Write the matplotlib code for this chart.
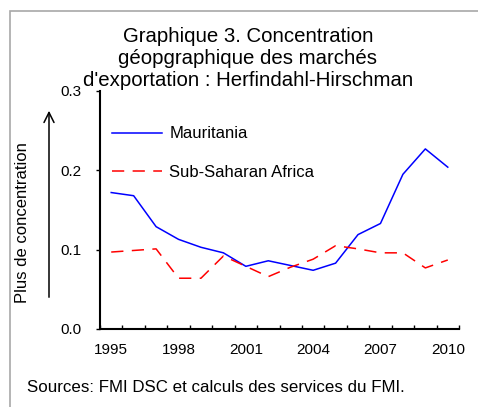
import matplotlib
matplotlib.use("Agg")
import matplotlib.pyplot as plt
from matplotlib.patches import Rectangle
import numpy as np

plt.rcParams['font.family'] = ['Liberation Sans', 'DejaVu Sans']

years = list(range(1995, 2011))
mauritania = [0.172, 0.168, 0.129, 0.113, 0.103, 0.096, 0.079, 0.086,
              0.080, 0.074, 0.083, 0.119, 0.133, 0.195, 0.227, 0.204]
ssa = [0.097, 0.099, 0.101, 0.064, 0.064, 0.092, 0.079, 0.066,
       0.078, 0.088, 0.105, 0.101, 0.096, 0.096, 0.077, 0.087]
yticks = [0.0, 0.1, 0.2, 0.3]
xlabel_years = [1995, 1998, 2001, 2004, 2007, 2010]

W, H = 478, 407
fig = plt.figure(figsize=(W/100, H/100), dpi=100)

# outer frame (left/top visible)
fig.add_artist(Rectangle((10/W, -0.1), 1.2, 1.1 - 11/H, transform=fig.transFigure,
                         fill=False, edgecolor='#a8a8a8', linewidth=1.2))

ax = fig.add_axes([100/W, 1 - 329/H, 359/W, 238/H])
x = np.arange(len(years))
ax.plot(x, mauritania, color='#0000ff', lw=1.1, label='Mauritania')
ax.plot(x, ssa, color='#ff0000', lw=1.1, dashes=(8, 5.5), label='Sub-Saharan Africa')

ax.set_xlim(-0.5, len(years) - 0.5)
ax.set_ylim(0, 0.3)
ax.set_yticks(yticks)
ax.set_yticklabels([f"{v:.1f}" for v in yticks], fontsize=11)
ax.tick_params(axis='y', direction='out', length=3, width=1, pad=10)

ax.set_xticks([years.index(y) for y in xlabel_years])
ax.set_xticklabels([str(y) for y in xlabel_years], fontsize=11)
ax.set_xticks(np.arange(-0.5, len(years)), minor=True)
ax.tick_params(axis='x', which='major', length=0, pad=10)
ax.tick_params(axis='x', which='minor', direction='in', length=3, width=1)

for s in ['top', 'right']:
    ax.spines[s].set_visible(False)
for s in ['left', 'bottom']:
    ax.spines[s].set_linewidth(1.5)

ax.legend(loc='upper left', bbox_to_anchor=(0.0, 0.9), frameon=False, fontsize=12,
          handlelength=3.0, handletextpad=0.45, labelspacing=1.4, borderaxespad=0.3)

fig.text(248/W, 1 - 26.5/H, "Graphique 3. Concentration\ngéopgraphique des marchés\nd'exportation : Herfindahl-Hirschman",
         ha='center', va='top', fontsize=14.7, linespacing=1.2)

fig.text(23/W, 1 - 223/H, "Plus de concentration", rotation=90, ha='center', va='center', fontsize=12)
ax.annotate('', xy=(49/W, 1 - 108/H), xytext=(49/W, 1 - 300/H),
            xycoords='figure fraction', textcoords='figure fraction',
            arrowprops=dict(arrowstyle='->', lw=1.1, color='black', mutation_scale=18))

fig.text(27/W, 1 - 388/H, "Sources: FMI DSC et calculs des services du FMI.",
         ha='left', va='center', fontsize=12.2)

fig.savefig('out.png', dpi=100)
